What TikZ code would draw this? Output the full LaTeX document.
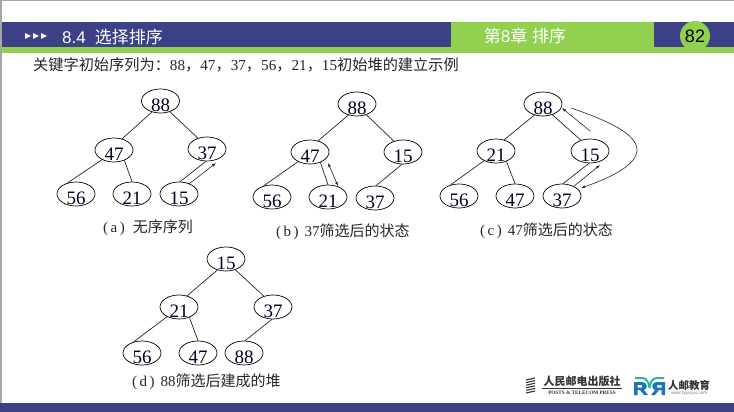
\documentclass[tikz,border=0pt]{standalone}
\usepackage{fontspec}
\usetikzlibrary{shapes.geometric,arrows.meta}
\setmainfont{Liberation Serif}
\newfontfamily\cjk{Noto Sans CJK SC}
\newfontfamily\arial{Liberation Sans}
\definecolor{barblue}{HTML}{3B4087}
\definecolor{bargreen}{HTML}{92D050}
\definecolor{logoblue}{HTML}{1B75BC}
\definecolor{logoteal}{HTML}{2BB59A}
\definecolor{logoink}{HTML}{333333}
\newcommand{\hv}[1]{\raisebox{-10pt}[0pt][0pt]{#1}}
\tikzset{
  hn/.style={ellipse,draw=black,line width=0.7pt,minimum width=38pt,minimum height=24pt,inner sep=0pt,font=\fontsize{19}{19}\selectfont,text=black!85!blue},
  edge/.style={draw=black!85,line width=0.7pt},
  tip/.style={draw=black!85,line width=0.6pt,-{Latex[length=4pt,width=3pt]}},
  tips/.style={draw=black!85,line width=0.6pt,{Latex[length=4pt,width=3pt]}-{Latex[length=4pt,width=3pt]}},
  txt/.style={anchor=west,inner sep=0pt,text=black!85,font=\fontsize{15}{16}\selectfont},
  head/.style={text=white,inner sep=0pt,font=\fontsize{17}{18}\selectfont\arial},
  bar/.style={fill=barblue,draw=none},
  tri/.style={fill=white,draw=none}
}
\begin{document}
\begin{tikzpicture}[x=1pt,y=-1pt]
\useasboundingbox (0,0) rectangle (734,412);
\fill[white] (0,0) rectangle (734,412);
% frame
\fill[black!35] (0,0) rectangle (734,1.5);
\fill[black!35] (0,0) rectangle (1.5,412);
% header
\fill[bar] (1.5,22) rectangle (734,47);
\fill[bargreen] (1.5,47) rectangle (734,53);
\fill[bargreen] (451,22) rectangle (654,53);
\fill[bar] (734,403) rectangle (0,412);
\fill[tri] (25,33) -- (25,39) -- (31,36) -- cycle;
\fill[tri] (33,33) -- (33,39) -- (39,36) -- cycle;
\fill[tri] (41,33) -- (41,39) -- (47,36) -- cycle;
\node[head,anchor=west] (title) at (62,37) {8.4\hspace{9pt}{\cjk 选择排序}};
\node[head] (chapter) at (525,36) {{\cjk 第}8{\cjk 章} {\cjk 排序}};
\node[circle,fill=bargreen,minimum size=30pt,inner sep=0pt,font=\fontsize{18}{18}\selectfont\arial] (page) at (695,36) {82};
% intro
\node[txt,font=\fontsize{15.2}{16}\selectfont] (intro) at (33,65) {{\cjk 关键字初始序列为：}88{\cjk ，}47{\cjk ，}37{\cjk ，}56{\cjk ，}21{\cjk ，}15{\cjk 初始堆的建立示例}};
% tree a
\node[hn] (a1) at (160.5,101) {\hv{88}};
\node[hn] (a2) at (114,150) {\hv{47}};
\node[hn] (a3) at (207,149) {\hv{37}};
\node[hn] (a4) at (76,194) {\hv{56}};
\node[hn] (a5) at (132,194) {\hv{21}};
\node[hn] (a6) at (179,194) {\hv{15}};
% tree b
\node[hn] (b1) at (357,104) {\hv{88}};
\node[hn] (b2) at (310,152) {\hv{47}};
\node[hn] (b3) at (403,152) {\hv{15}};
\node[hn] (b4) at (272,197) {\hv{56}};
\node[hn] (b5) at (328,197) {\hv{21}};
\node[hn] (b6) at (375,198) {\hv{37}};
% tree c
\node[hn] (c1) at (543,104) {\hv{88}};
\node[hn] (c2) at (496,151) {\hv{21}};
\node[hn] (c3) at (590,151) {\hv{15}};
\node[hn] (c4) at (459,196) {\hv{56}};
\node[hn] (c5) at (515,196) {\hv{47}};
\node[hn] (c6) at (562,196) {\hv{37}};
% tree d
\node[hn] (d1) at (226,259) {\hv{15}};
\node[hn] (d2) at (179,307) {\hv{21}};
\node[hn] (d3) at (273,307) {\hv{37}};
\node[hn] (d4) at (142,353) {\hv{56}};
\node[hn] (d5) at (198,353) {\hv{47}};
\node[hn] (d6) at (244,353) {\hv{88}};
% edges
\foreach \t in {a,b,c,d}{
  \draw[edge] (\t1.-128) -- (\t2.54);
  \draw[edge] (\t1.-49) -- (\t3.130);
  \draw[edge] (\t2.-141) -- (\t4.127);
  \draw[edge] (\t2.-45) -- (\t5.90);
  \draw[edge] (\t3.-95) -- (\t6.85);
}
% swap arrows
\coordinate (ap) at (189,184);
\coordinate (aq) at (216,163);
\draw[tip] (ap) -- (aq);
\coordinate (bp) at (328,163);
\coordinate (bq) at (338,186);
\draw[tips] (bp) -- (bq);
\coordinate (cp) at (573,187);
\coordinate (cq) at (600,165);
\draw[tip] (cp) -- (cq);
\coordinate (cr) at (590,131);
\coordinate (cs) at (562,108);
\draw[tip] (cr) -- (cs);
\coordinate (ct) at (571,108);
\coordinate (cu) at (581,188);
\draw[tip] (ct) .. controls (612,122) and (637,135) .. (637,150) .. controls (637,165) and (610,178) .. (cu);
% captions
\node[txt] (capa) at (103,228) {(\,a\,)\hspace{8pt}{\cjk 无序序列}};
\node[txt] (capb) at (276,232) {(\,b\,)\hspace{6pt}37{\cjk 筛选后的状态}};
\node[txt] (capc) at (480,231) {(\,c\,)\hspace{6pt}47{\cjk 筛选后的状态}};
\node[txt] (capd) at (132,382) {(\,d\,)\hspace{6pt}88{\cjk 筛选后建成的堆}};
% publisher logo
\foreach \s in {0,2.6,...,15.6}{
  \draw[logoink,line width=1.1pt] (526,{380+\s}) -- (535,{378+\s});
}
\node[inner sep=0pt,anchor=center,text=logoink,font=\fontsize{11}{12}\selectfont\bfseries\cjk] (pub) at (582,381) {人民邮电出版社};
\draw[logoink,line width=0.4pt] (542,388.5) -- (622,388.5);
\node[inner sep=0pt,anchor=center,text=logoink,font=\fontsize{5.2}{6}\selectfont\bfseries] (pubeng) at (582,392.5) {POSTS \& TELECOM PRESS};
% education logo
\draw[logoteal,line width=2pt] (635,378) -- (642,378) .. controls (647,378) and (649,383) .. (649.5,388);
\draw[logoteal,line width=2pt] (664,378) -- (657,378) .. controls (652,378) and (650,383) .. (649.5,388);
\fill[logoblue,even odd rule] (634,382) -- (642,382) .. controls (648,382) and (648,389) .. (644,390) -- (648,395) -- (644,395) -- (640,390) -- (637.5,390) -- (637.5,395) -- (634,395) -- cycle
  (637.5,385) rectangle (642,387.5);
\fill[logoblue,even odd rule] (665,382) -- (657,382) .. controls (651,382) and (651,389) .. (655,390) -- (651,395) -- (655,395) -- (659,390) -- (661.5,390) -- (661.5,395) -- (665,395) -- cycle
  (661.5,385) rectangle (657,387.5);
\node[inner sep=0pt,anchor=center,text=logoink,font=\fontsize{10.5}{12}\selectfont\bfseries\cjk] (edu) at (689,385) {人邮教育};
\node[inner sep=0pt,anchor=center,text=black!50,font=\fontsize{4.5}{5}\selectfont\arial] (eduweb) at (689,393.5) {www.ryjiaoyu.com};
\end{tikzpicture}
\end{document}
